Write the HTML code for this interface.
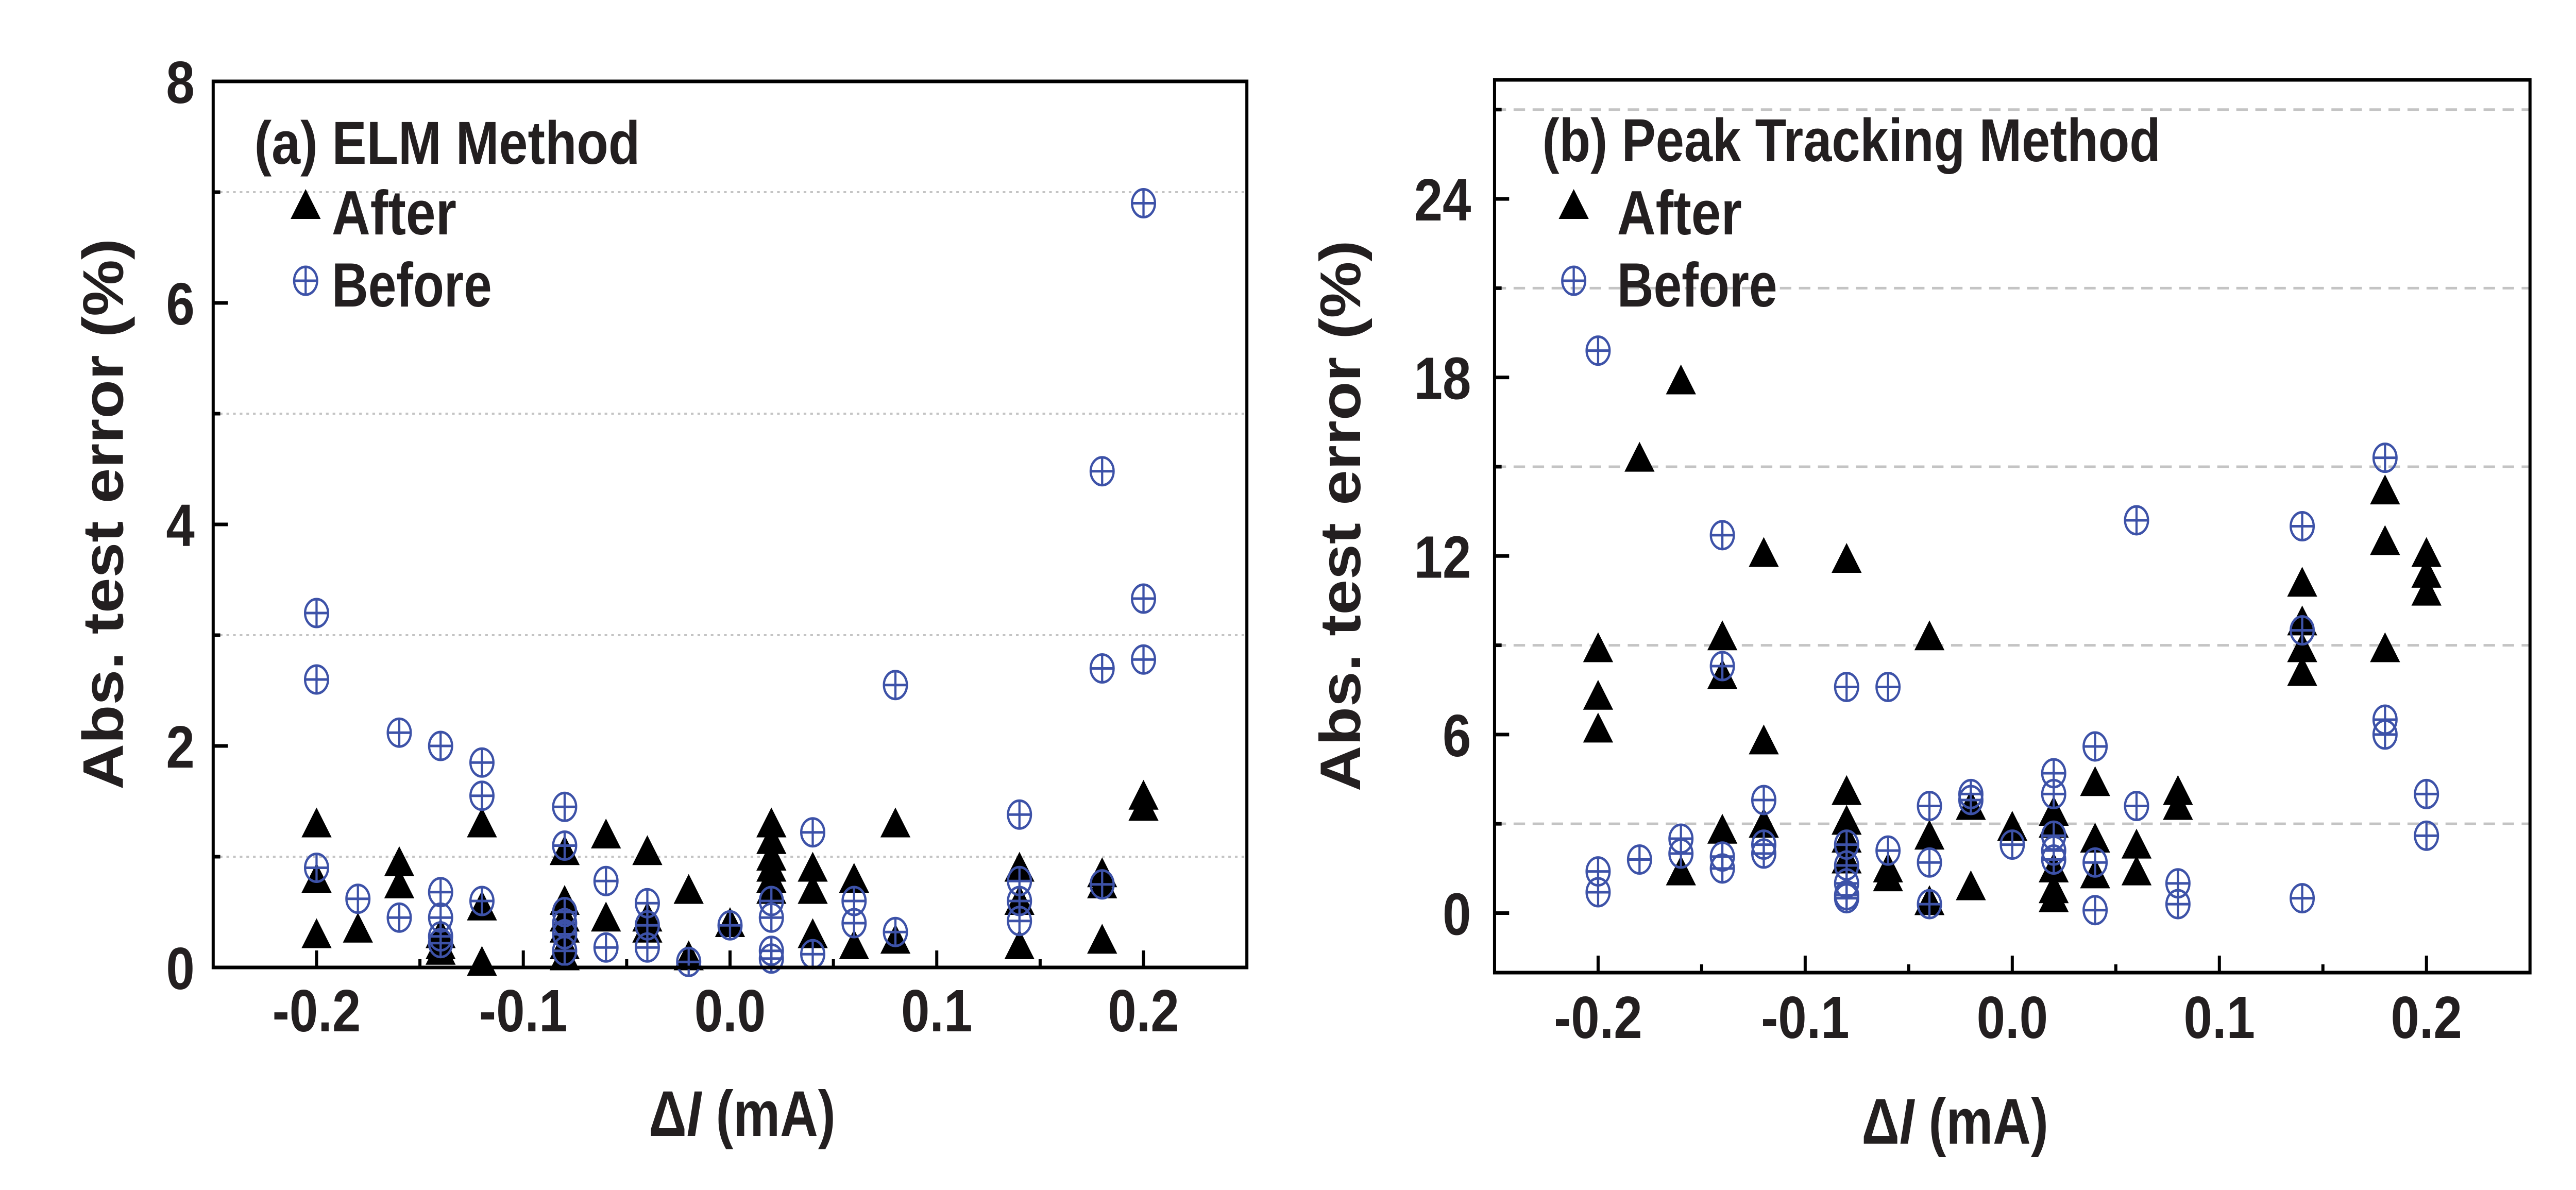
<!DOCTYPE html>
<html><head><meta charset="utf-8"><style>
html,body{margin:0;padding:0;background:#fff;overflow:hidden;width:100vw;height:100vh;}
svg{display:block;width:100vw;height:100vh;}
text{font-family:"Liberation Sans",sans-serif;font-weight:bold;fill:#231f20;}
</style></head><body>
<svg id="chart" viewBox="0 0 5824 2310" preserveAspectRatio="none" xmlns="http://www.w3.org/2000/svg">
<g id="pa"></g>
<g id="pb"></g>
</svg>
<script>
// Panel (a) ELM
const xCatsA = [-0.2,-0.18,-0.16,-0.14,-0.12,-0.08,-0.06,-0.04,-0.02,0,0.02,0.04,0.06,0.08,0.14,0.18,0.2];
const afterA = [[1.3,0.8,0.3],[0.35],[0.95,0.75],[0.3,0.2,0.15],[1.3,0.55,0.05],[1.05,0.6,0.45,0.35,0.2,0.1],[1.2,0.45],[1.05,0.45,0.35],[0.7,0.1],[0.4],[1.3,1.15,1.0,0.9,0.8,0.7],[0.9,0.7,0.3],[0.8,0.2],[1.3,0.25],[0.9,0.6,0.2],[0.85,0.75,0.25],[1.55,1.45]];
const beforeA = [[3.2,2.6,0.9],[0.62],[2.12,0.45],[2.0,0.68,0.45,0.28,0.22],[1.85,1.55,0.6],[1.45,1.1,0.5,0.4,0.3,0.15],[0.78,0.18],[0.58,0.38,0.18],[0.05],[0.38],[0.6,0.45,0.15,0.08],[1.22,0.12],[0.6,0.4],[2.55,0.32],[1.38,0.78,0.6,0.42],[4.48,2.7,0.75],[6.9,3.33,2.78]];
const yTicksA = [0,2,4,6,8];
const yGridA = [1,3,5,7];
// Panel (b) Peak tracking
const xCatsB = [-0.2,-0.18,-0.16,-0.14,-0.12,-0.08,-0.06,-0.04,-0.02,0,0.02,0.04,0.06,0.08,0.14,0.18,0.2];
const afterB = [[8.9,7.3,6.2],[15.3],[17.9,1.4],[9.3,8.0,2.8],[12.1,5.8,3.0],[11.9,4.1,3.1,2.5,1.8],[1.5,1.2],[9.3,2.6,0.4],[3.6,0.9],[2.9],[3.4,3.0,1.5,0.8,0.5],[4.4,2.5,1.3],[2.3,1.4],[4.1,3.6],[11.1,9.8,8.9,8.1],[14.2,12.5,8.9],[12.1,11.4,10.8]];
const beforeB = [[18.9,1.4,0.7],[1.8],[2.5,2.0],[12.7,8.3,1.9,1.5],[3.8,2.3,2.0],[7.6,2.3,1.6,1.0,0.6,0.5],[7.6,2.1],[3.6,1.7,0.3],[4.0,3.8],[2.3],[4.7,4.0,2.6,2.1,1.8],[5.6,1.7,0.1],[13.2,3.6],[1.0,0.3],[13.0,9.5,0.5],[15.3,6.5,6.0],[4.0,2.6]];
const yTicksB = [0,6,12,18,24];
const yGridB = [3,9,15,21,27];
const xTicks = [-0.2,-0.1,0.0,0.1,0.2];
const xMinor = [-0.15,-0.05,0.05,0.15];

const NS="http://www.w3.org/2000/svg";
function mk(p,tag,at){const e=document.createElementNS(NS,tag);for(const k in at)e.setAttribute(k,at[k]);p.appendChild(e);return e;}
const BLUE="#3d52a8";
function tri(g,cx,cy){const e=mk(g,'polygon',{points:`${cx-34},${cy+27} ${cx+34},${cy+27} ${cx},${cy-31}`,fill:'#000'});return e;}
function circ(g,cx,cy){const s=mk(g,'g',{});
mk(s,'ellipse',{cx:cx,cy:cy,rx:26,ry:27,fill:'none',stroke:BLUE,'stroke-width':5});
mk(s,'line',{x1:cx-26,y1:cy,x2:cx+26,y2:cy,stroke:BLUE,'stroke-width':5});
mk(s,'line',{x1:cx,y1:cy-27,x2:cx,y2:cy+27,stroke:BLUE,'stroke-width':5});return s;}

function panel(g,cfg){
 const {L,R,T,B,ymin,ymax,cats,after,before,yTicks,yGrid,dash,yLabRight,title,titleW,titleX,legX,legTextX,titleY,yTitleX,xTitleX,xTitleY,xLabY}=cfg;
 const sx=v=>L+(v+0.25)/0.5*(R-L);
 const sy=v=>B-(v-ymin)/(ymax-ymin)*(B-T);
 yGrid.forEach(v=>{const l=mk(g,'line',{x1:L,x2:R,y1:sy(v),y2:sy(v),stroke:'#c4c4c4','stroke-width':dash?5:4,'stroke-dasharray':dash?'26 17':'6 9'});
 
 
 const t=mk(g,'line',{x1:L,x2:L+16,y1:sy(v),y2:sy(v),stroke:'#000','stroke-width':7});
 
 });
 yTicks.forEach(v=>{const t=mk(g,'line',{x1:L,x2:L+33,y1:sy(v),y2:sy(v),stroke:'#000','stroke-width':7});
 
 
 const lb=mk(g,'text',{x:yLabRight,y:sy(v)+42,'font-size':116,'text-anchor':'end'});lb.textContent=String(v);
 
 });
 xTicks.forEach(v=>{const t=mk(g,'line',{x1:sx(v),x2:sx(v),y1:B,y2:B-33,stroke:'#000','stroke-width':7});
 
 
 const lb=mk(g,'text',{x:sx(v),y:xLabY,'font-size':116,'text-anchor':'middle'});lb.textContent=v.toFixed(1);
 
 });
 xMinor.forEach(v=>{const t=mk(g,'line',{x1:sx(v),x2:sx(v),y1:B,y2:B-16,stroke:'#000','stroke-width':7});
 
 });
 cats.forEach((c,i)=>{after[i].forEach(v=>{const m=tri(g,sx(c),sy(v));
 
 });});
 cats.forEach((c,i)=>{before[i].forEach(v=>{const m=circ(g,sx(c),sy(v));
 
 });});
 const fr=mk(g,'rect',{x:L,y:T,width:R-L,height:B-T,fill:'none',stroke:'#000','stroke-width':7});
 
 
 const tt=mk(g,'text',{x:titleX,y:titleY,'font-size':118,textLength:titleW,lengthAdjust:'spacingAndGlyphs'});tt.textContent=title;
 
 
 const lt=tri(g,legX,398);
 
 
 const la=mk(g,'text',{x:legTextX,y:455,'font-size':122,textLength:282,lengthAdjust:'spacingAndGlyphs'});la.textContent='After';
 
 
 const lc=circ(g,legX,545);
 
 
 const lbf=mk(g,'text',{x:legTextX,y:595,'font-size':122,textLength:362,lengthAdjust:'spacingAndGlyphs'});lbf.textContent='Before';
 
 
 const yt=mk(g,'text',{x:0,y:0,'font-size':130,'text-anchor':'middle',textLength:1070,lengthAdjust:'spacingAndGlyphs',transform:`translate(${yTitleX},${(T+B)/2-20}) rotate(-90)`});yt.textContent='Abs. test error (%)';
 
 
 const xt=mk(g,'text',{x:xTitleX,y:xTitleY,'font-size':125,'text-anchor':'middle',textLength:422,lengthAdjust:'spacingAndGlyphs'});
 
 
 const s1=mk(xt,'tspan',{});s1.textContent='Δ';
 const s2=mk(xt,'tspan',{'font-style':'italic'});s2.textContent='I';
 const s3=mk(xt,'tspan',{});s3.textContent=' (mA)';
}
panel(document.getElementById('pa'),{L:482,R:2819,T:158,B:1878,ymin:0,ymax:8,cats:xCatsA,after:afterA,before:beforeA,yTicks:yTicksA,yGrid:yGridA,dash:false,yLabRight:440,title:'(a) ELM Method',titleW:872,titleX:575,legX:691,legTextX:750,titleY:318,yTitleX:278,xTitleX:1678,xTitleY:2205,xLabY:2002});
panel(document.getElementById('pb'),{L:3379,R:5720,T:155,B:1888,ymin:-2,ymax:28,cats:xCatsB,after:afterB,before:beforeB,yTicks:yTicksB,yGrid:yGridB,dash:true,yLabRight:3326,title:'(b) Peak Tracking Method',titleW:1398,titleX:3487,legX:3558,legTextX:3656,titleY:313,yTitleX:3075,xTitleX:4420,xTitleY:2220,xLabY:2015});
</script>
</body></html>
